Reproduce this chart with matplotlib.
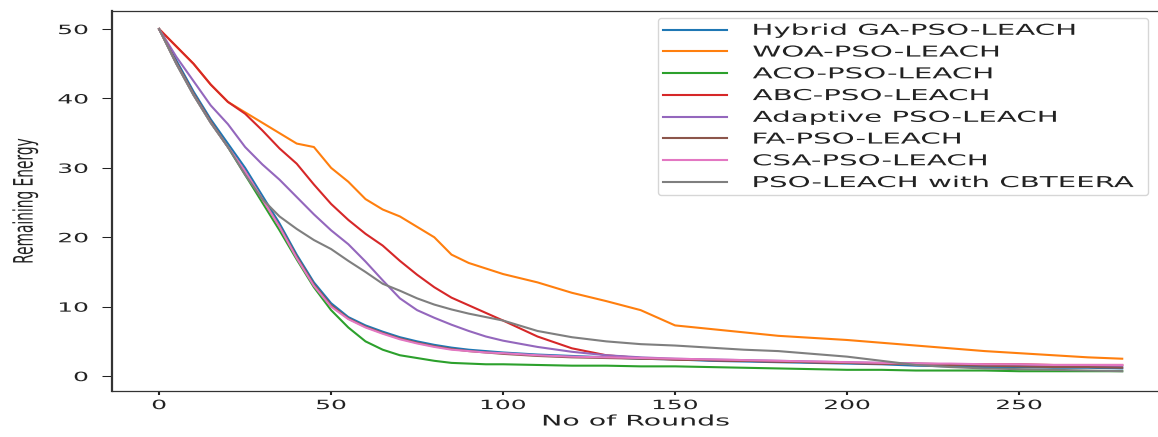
import matplotlib
matplotlib.use("Agg")
import matplotlib.pyplot as plt
import matplotlib.patheffects as pe
from matplotlib.transforms import Affine2D

# ---------------- data ----------------
rounds = [0, 5, 10, 15, 20, 25, 30, 35, 40, 45, 50, 55, 60, 65, 70, 75, 80, 85, 90, 95,
          100, 110, 120, 130, 140, 150, 160, 170, 180, 190, 200, 210, 220, 230, 240,
          250, 260, 270, 280]

hybrid_ga = [50, 45.5, 41, 37, 33.5, 30, 26, 22, 17.5, 13.5, 10.5, 8.5, 7.3, 6.4, 5.6, 5.0, 4.5, 4.1, 3.8, 3.6,
             3.4, 3.1, 2.9, 2.7, 2.5, 2.4, 2.2, 2.1, 2.0, 1.9, 1.8, 1.7, 1.5, 1.4, 1.3,
             1.3, 1.2, 1.2, 1.1]
woa = [50, 47.5, 45, 42, 39.5, 38, 36.5, 35, 33.5, 33, 30, 28, 25.5, 24, 23, 21.5, 20, 17.5, 16.3, 15.5,
       14.7, 13.5, 12, 10.8, 9.5, 7.3, 6.8, 6.3, 5.8, 5.5, 5.2, 4.8, 4.4, 4.0, 3.6,
       3.3, 3.0, 2.7, 2.5]
aco = [50, 45, 40.5, 36.5, 33, 29, 25, 21, 16.8, 12.8, 9.5, 7.0, 5.0, 3.8, 3.0, 2.6, 2.2, 1.9, 1.8, 1.7,
       1.7, 1.6, 1.5, 1.5, 1.4, 1.4, 1.3, 1.2, 1.1, 1.0, 0.9, 0.9, 0.8, 0.8, 0.8,
       0.7, 0.7, 0.7, 0.7]
abc = [50, 47.5, 45, 42, 39.5, 37.8, 35.4, 32.8, 30.6, 27.6, 24.8, 22.5, 20.5, 18.8, 16.6, 14.6, 12.8, 11.3, 10.2, 9.1,
       8.0, 5.7, 4.0, 3.0, 2.6, 2.4, 2.3, 2.2, 2.1, 2.0, 1.9, 1.8, 1.8, 1.7, 1.7,
       1.7, 1.6, 1.6, 1.6]
adaptive = [50, 46, 42.5, 39, 36.3, 33, 30.5, 28.3, 25.8, 23.3, 21.0, 19, 16.5, 13.8, 11.2, 9.5, 8.4, 7.4, 6.5, 5.7,
            5.1, 4.2, 3.5, 3.0, 2.7, 2.5, 2.4, 2.3, 2.2, 2.1, 2.0, 1.9, 1.8, 1.7, 1.6,
            1.6, 1.5, 1.5, 1.4]
fa = [50, 45.2, 40.7, 36.7, 33, 29.5, 25.5, 21.6, 17.2, 13.2, 10.2, 8.3, 7.1, 6.2, 5.4, 4.8, 4.3, 3.9, 3.6, 3.4,
      3.2, 2.9, 2.7, 2.6, 2.5, 2.4, 2.3, 2.2, 2.1, 2.0, 1.9, 1.8, 1.7, 1.6, 1.5,
      1.4, 1.3, 1.3, 1.2]
csa = [50, 45, 40.5, 36.5, 33, 29.5, 25.5, 21.5, 17, 13, 10, 8.2, 7.0, 6.1, 5.3, 4.7, 4.2, 3.8, 3.6, 3.4,
       3.3, 3.0, 2.8, 2.7, 2.6, 2.5, 2.4, 2.3, 2.2, 2.1, 2.0, 1.9, 1.8, 1.8, 1.7,
       1.7, 1.6, 1.6, 1.6]
cbteera = [50, 45, 40.5, 36.5, 33, 29, 25.5, 23, 21.2, 19.6, 18.3, 16.6, 15.0, 13.3, 12.3, 11.2, 10.3, 9.6, 9.0, 8.5,
           8.0, 6.5, 5.6, 5.0, 4.6, 4.4, 4.1, 3.8, 3.6, 3.2, 2.8, 2.2, 1.6, 1.3, 1.1,
           1.0, 0.9, 0.8, 0.7]

series_labels = ["Hybrid GA-PSO-LEACH", "WOA-PSO-LEACH", "ACO-PSO-LEACH", "ABC-PSO-LEACH",
                 "Adaptive PSO-LEACH", "FA-PSO-LEACH", "CSA-PSO-LEACH", "PSO-LEACH with CBTEERA"]
series_values = [hybrid_ga, woa, aco, abc, adaptive, fa, csa, cbteera]
x_ticks = [0, 50, 100, 150, 200, 250]
y_ticks = [0, 10, 20, 30, 40, 50]
x_label = "No of Rounds"
y_label = "Remaining Energy"

colors = ["#1f77b4", "#ff7f0e", "#2ca02c", "#d62728", "#9467bd", "#8c564b", "#e377c2", "#7f7f7f"]


# ---------- horizontal stretch of glyphs (reference image is stretched) ----------
class HStretch(pe.AbstractPathEffect):
    def __init__(self, sx, anchor="center"):
        super().__init__()
        self.sx = sx
        self.anchor = anchor

    def draw_path(self, renderer, gc, tpath, affine, rgbFace=None):
        ext = tpath.get_extents(affine)
        if self.anchor == "left":
            cx = ext.x0
        elif self.anchor == "right":
            cx = ext.x1
        else:
            cx = 0.5 * (ext.x0 + ext.x1)
        aff = affine + Affine2D().translate(-cx, 0).scale(self.sx, 1.0).translate(cx, 0)
        renderer.draw_path(gc, tpath, aff, rgbFace)


SX = 1.95
W, H = 1158, 437
fig = plt.figure(figsize=(W / 100, H / 100), dpi=100)
ax_left, ax_right, ax_top, ax_bot = 112, 1158, 11, 391
ax = fig.add_axes([ax_left / W, (H - ax_bot) / H, (ax_right - ax_left) / W, (ax_bot - ax_top) / H])

for vals, lab, c in zip(series_values, series_labels, colors):
    ax.plot(rounds, vals, color=c, lw=1.5, label=lab)

ax.set_xlim(-13.7, 290.4)
ax.set_ylim(-2.15, 52.6)
ax.set_xticks(x_ticks)
ax.set_yticks(y_ticks)

txt_color = "#222222"
ax.tick_params(axis="y", length=7.2, width=0.75, pad=10, labelsize=9.2, colors=txt_color)
ax.tick_params(axis="x", length=3.2, width=1.5, pad=2.6, labelsize=9.2, colors=txt_color)
for t in ax.xaxis.get_major_ticks():
    t.label1.set_path_effects([HStretch(SX, "center")])
for t in ax.yaxis.get_major_ticks():
    t.label1.set_path_effects([HStretch(SX, "right")])

ax.spines["right"].set_visible(False)
ax.spines["left"].set_linewidth(1.6)
ax.spines["top"].set_linewidth(0.9)
ax.spines["bottom"].set_linewidth(0.9)
for s in ax.spines.values():
    s.set_color("#333333")

axw = ax_right - ax_left
axh = ax_bot - ax_top
ax.set_xlabel(x_label, fontsize=10.5, color=txt_color, va="center",
              path_effects=[HStretch(SX, "center")])
ax.xaxis.set_label_coords((636 - ax_left) / axw, -(421 - ax_bot) / axh)
ax.set_ylabel(y_label, fontsize=9.9, color=txt_color, va="center",
              path_effects=[HStretch(SX, "center")])
ax.yaxis.set_label_coords((25 - ax_left) / axw, 0.5)

# legend frame: x 658-1148, y 18-193 (pixels)
lx0 = (658 - ax_left) / axw
lw_ = (1148 - 658) / axw
ly0 = (ax_bot - 193) / axh
lh = (193 - 18) / axh
leg = ax.legend(loc="upper left", bbox_to_anchor=(lx0, ly0, lw_, lh), mode="expand",
                borderaxespad=0, fontsize=10.8, handlelength=4.3, handletextpad=1.7,
                labelspacing=0.45, borderpad=0.32, frameon=True)
for t in leg.get_texts():
    t.set_color(txt_color)
    t.set_path_effects([HStretch(SX, "left")])

fig.savefig("out.png", dpi=100)
